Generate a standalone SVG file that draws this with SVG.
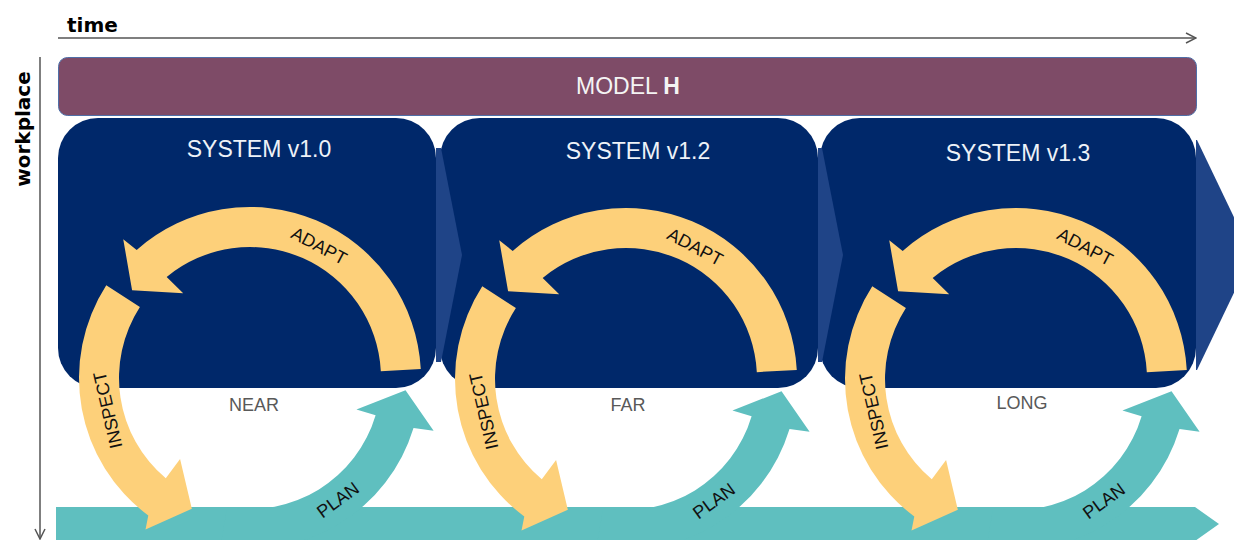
<svg xmlns="http://www.w3.org/2000/svg" width="1234" height="540" viewBox="0 0 1234 540">
  <defs>
    <style>
      .axisT { font-family: "DejaVu Sans", sans-serif; font-weight: bold; font-size: 20px; fill: #000; }
      .box { fill: #00286A; }
      .chev { fill: #1F4487; }
      .title { font-family: "Liberation Sans", Arial, sans-serif; font-size: 23px; fill: #EEF2F8; text-anchor: middle; }
      .hz { font-family: "Liberation Sans", Arial, sans-serif; font-size: 18px; fill: #595959; text-anchor: middle; }
      .yel { fill: #FDD07A; }
      .teal { fill: #5FBFBF; }
      .lbl { font-family: "Liberation Sans", Arial, sans-serif; font-size: 18px; fill: #111; text-anchor: middle; }
      .axis { stroke: #555; stroke-width: 1.5; fill: none; }
    </style>
    <marker id="open" viewBox="0 0 12 12" refX="11" refY="6" markerWidth="12" markerHeight="12" markerUnits="userSpaceOnUse" orient="auto">
      <path d="M1,1 L11,6 L1,11" fill="none" stroke="#555" stroke-width="1.5"/>
    </marker>
    <path id="adapt" d="M170.77,-8.95 A171,171 0 0 0 -113.31,-128.07 L-126.77,-138.83 L-117.91,-87.78 L-66.79,-84.87 L-83.33,-101.08 A131,131 0 0 1 130.82,-6.86 Z"/>
    <path id="inspect" d="M-143.74,-92.63 A171,171 0 0 0 -101.71,137.46 L-104.48,151.46 L-58.16,130.64 L-69.92,81.00 L-84.21,100.35 A131,131 0 0 1 -110.11,-70.96 Z"/>
    <path id="plan" d="M-29.69,168.40 A171,171 0 0 0 163.53,50.00 L183.60,52.65 L155.52,12.24 L106.43,31.53 L125.61,37.21 A131,131 0 0 1 -22.75,129.01 Z"/>
  </defs>

  <rect width="1234" height="540" fill="#FFFFFF"/>

  <g id="connectors">
    <line class="axis" x1="58" y1="38" x2="1196" y2="38" marker-end="url(#open)"/>
    <line class="axis" x1="40" y1="57" x2="40" y2="539" marker-end="url(#open)"/>
  </g>
  <text class="axisT" x="67" y="32">time</text>
  <text class="axisT" font-size="21" transform="translate(30,129) rotate(-90)" text-anchor="middle">workplace</text>

  <g id="model">
    <rect x="58.5" y="57.5" width="1138" height="58" rx="9" fill="#7E4B67" stroke="#4F6FA8" stroke-width="1"/>
    <text x="628" y="94" font-family="Liberation Sans, Arial, sans-serif" font-size="23" fill="#F4F4F4" text-anchor="middle">MODEL <tspan font-weight="bold">H</tspan></text>
  </g>

  <g id="system-v1-0">
    <rect class="box" x="58" y="118" width="378" height="270" rx="40"/>
  </g>
  <g id="system-v1-2">
    <rect class="box" x="440" y="118" width="378" height="270" rx="40"/>
  </g>
  <g id="system-v1-3">
    <rect class="box" x="820" y="118" width="376" height="270" rx="40"/>
  </g>
  <g id="chevrons">
    <polygon class="chev" points="436,148 441,148 462,255 441,362 436,362"/>
    <polygon class="chev" points="818,148 822,148 843,255 822,362 818,362"/>
    <polygon class="chev" points="1196,140 1197,140 1252,255 1197,370 1196,370"/>
  </g>
  <g id="titles">
    <text class="title" x="259" y="157">SYSTEM v1.0</text>
    <text class="title" x="638" y="159">SYSTEM v1.2</text>
    <text class="title" x="1018" y="161">SYSTEM v1.3</text>
    <text class="hz" x="254" y="411">NEAR</text>
    <text class="hz" x="628" y="411">FAR</text>
    <text class="hz" x="1022" y="409">LONG</text>
  </g>

  <g id="timeline">
    <polygon class="teal" points="56,507 1195,507 1219,524 1195,541 56,541"/>
  </g>

  <g id="cycle-1" transform="translate(250,378)">
    <use href="#plan" class="teal"/>
    <use href="#adapt" class="yel"/>
    <use href="#inspect" class="yel"/>
    <text class="lbl" transform="translate(69,-132) rotate(28)" y="6">ADAPT</text>
    <text class="lbl" transform="translate(-142,32) rotate(-103)" y="6">INSPECT</text>
    <text class="lbl" transform="translate(88,122) rotate(-36)" y="6">PLAN</text>
  </g>
  <g id="cycle-2" transform="translate(626,379)">
    <use href="#plan" class="teal"/>
    <use href="#adapt" class="yel"/>
    <use href="#inspect" class="yel"/>
    <text class="lbl" transform="translate(69,-132) rotate(28)" y="6">ADAPT</text>
    <text class="lbl" transform="translate(-142,32) rotate(-103)" y="6">INSPECT</text>
    <text class="lbl" transform="translate(88,122) rotate(-36)" y="6">PLAN</text>
  </g>
  <g id="cycle-3" transform="translate(1016,379)">
    <use href="#plan" class="teal"/>
    <use href="#adapt" class="yel"/>
    <use href="#inspect" class="yel"/>
    <text class="lbl" transform="translate(69,-132) rotate(28)" y="6">ADAPT</text>
    <text class="lbl" transform="translate(-142,32) rotate(-103)" y="6">INSPECT</text>
    <text class="lbl" transform="translate(88,122) rotate(-36)" y="6">PLAN</text>
  </g>
</svg>
